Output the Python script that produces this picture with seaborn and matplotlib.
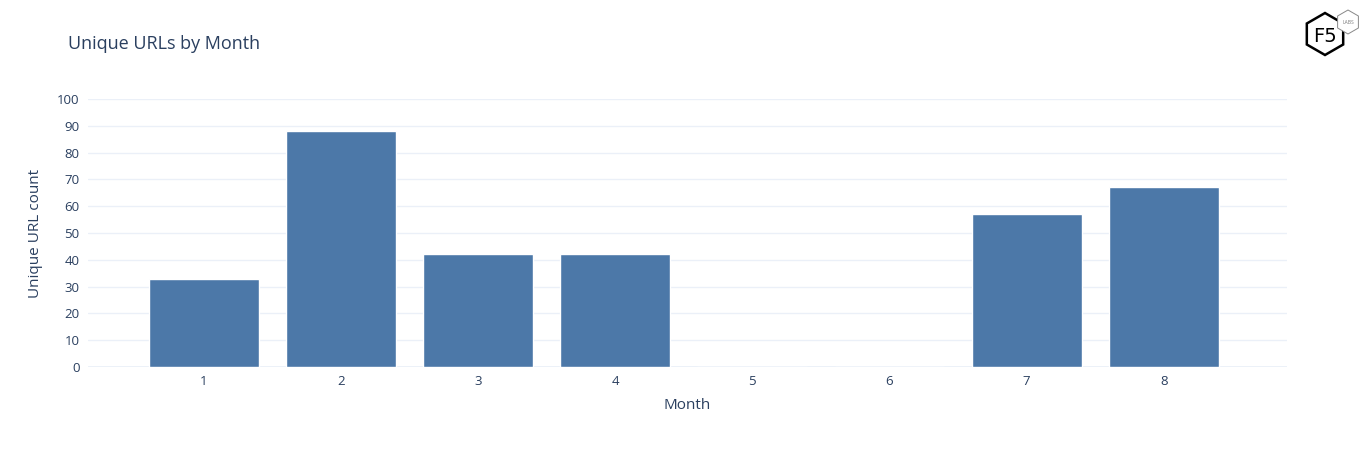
import matplotlib
matplotlib.use("Agg")
import matplotlib.pyplot as plt
from matplotlib.patches import RegularPolygon
import seaborn as sns
import pandas as pd

months = ["1", "2", "3", "4", "5", "6", "7", "8"]
counts = [33, 88, 42, 42, 0, 0, 57, 67]
yticks = [0, 10, 20, 30, 40, 50, 60, 70, 80, 90, 100]

title = "Unique URLs by Month"
xlabel = "Month"
ylabel = "Unique URL count"

df = pd.DataFrame({"Month": months, "Count": counts})

sns.set_theme(style="white")
plt.rcParams["font.family"] = ["Open Sans", "DejaVu Sans"]
text_color = "#2a3f5f"

fig = plt.figure(figsize=(13.68, 4.5), dpi=100)
ax = fig.add_axes([88 / 1368, 1 - 367 / 450, (1287 - 88) / 1368, (367 - 99) / 450])

sns.barplot(data=df, x="Month", y="Count", color="#4C78A8", width=0.8,
            saturation=1, ax=ax, zorder=3)

ax.set_xlim(-0.843, 7.898)
ax.set_ylim(0, 100)
ax.set_yticks(yticks)
ax.set_yticklabels([str(t) for t in yticks])
ax.grid(axis="y", color="#EBF0F8", linewidth=1, zorder=0)
ax.axhline(0, color="#EBF0F8", linewidth=2, zorder=2)
for s in ax.spines.values():
    s.set_visible(False)
ax.tick_params(axis="both", length=0, labelsize=9.5, colors=text_color, pad=6)
ax.set_xlabel(xlabel, fontsize=11, color=text_color, labelpad=7)
ax.set_ylabel(ylabel, fontsize=11, color=text_color, labelpad=10)

fig.text(68 / 1368, 1 - 44 / 450, title, fontsize=13, color=text_color,
         ha="left", va="center")

# F5 Labs logo
lax = fig.add_axes([1295 / 1368, 1 - 62 / 450, 70 / 1368, 54 / 450])
lax.set_xlim(1295, 1365)
lax.set_ylim(62, 8)
lax.set_aspect("equal")
lax.axis("off")
lax.add_patch(RegularPolygon((1325, 34), 6, radius=21, orientation=0,
                             facecolor="white", edgecolor="black", linewidth=1.8))
lax.add_patch(RegularPolygon((1348, 22), 6, radius=12, orientation=0,
                             facecolor="white", edgecolor="#888888", linewidth=0.7))
lax.text(1325, 36, "F5", fontsize=14, color="black", ha="center", va="center",
         family=["DejaVu Sans"])
lax.text(1348, 22, "LABS", fontsize=3.5, color="#777777", ha="center", va="center")

fig.savefig("out.png", dpi=100, facecolor="white")
